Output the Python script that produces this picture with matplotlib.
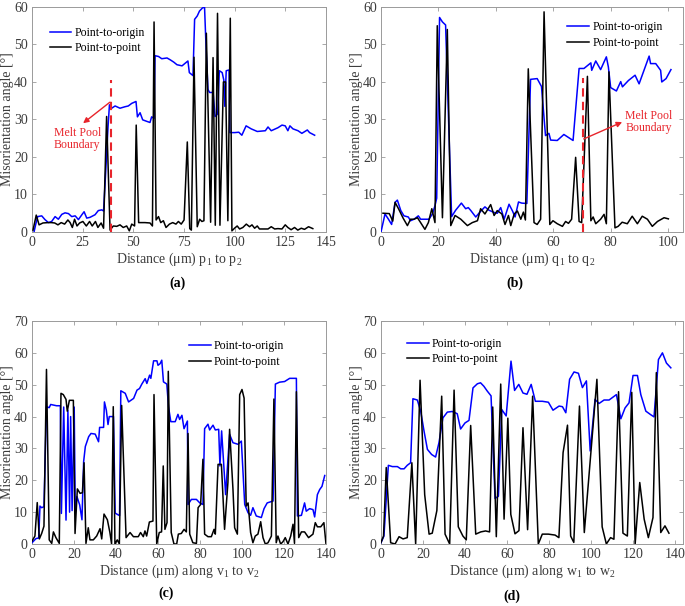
import matplotlib
matplotlib.use("Agg")
import matplotlib.pyplot as plt
from matplotlib.lines import Line2D

plt.rcParams["font.family"] = ["Liberation Serif", "DejaVu Serif"]
plt.rcParams["mathtext.fontset"] = "custom"
plt.rcParams["mathtext.rm"] = "Liberation Serif"
plt.rcParams["mathtext.it"] = "Liberation Serif:italic"

# ---------------------------------------------------------------------
# DATA
# ---------------------------------------------------------------------
# (a) p1 -> p2
a_origin = [(1, 0), (2.0, 2.4), (2.8, 4.1), (4.8, 4.3), (6.4, 3.3), (8.1, 2.5), (9.7, 2.8),
            (11.4, 4.1), (13, 3.4), (14.7, 4.7), (16.3, 5.1), (18, 4.9), (19.6, 4.1), (21.3, 4.3),
            (22.9, 3.3), (24.6, 4.6), (25.7, 5.4), (27, 3.7), (28.6, 3.9), (31.1, 4.6), (32.7, 5.7),
            (34.4, 5.9), (35.3, 5.6), (36.3, 15.5), (37.5, 28), (38.2, 33.9), (39.3, 33), (41, 33.6),
            (43.4, 33), (45.9, 33.4), (47.5, 33.6), (49.2, 34.3), (51.3, 34.8), (52, 30.7),
            (53.3, 31.8), (54.6, 29.9), (56.6, 29.5), (58.2, 29.2), (59, 30.7), (60.2, 30.3),
            (60.7, 47), (62.4, 46.8), (64, 46.2), (66.6, 46.4), (68.2, 45.9), (69.9, 45.3),
            (71.5, 44.6), (74, 44.3), (76.9, 45.6), (77.6, 42.5), (79.4, 41.7), (80.2, 56.7),
            (81.5, 57.6), (82.6, 58.9), (84, 59.7), (85.1, 60), (85.8, 50), (86.8, 38), (87.6, 37.2),
            (89.3, 37.2), (90.3, 30.8), (91.6, 31.5), (92.4, 43), (93.8, 42.5), (94.6, 40.5),
            (95.1, 33.5), (95.8, 43), (97.2, 43.2), (97.6, 26.5), (100, 26.5), (102, 26.6),
            (103.5, 25.8), (105.6, 28.3), (108.1, 27.5), (111.1, 26.8), (115.1, 27), (116.4, 28),
            (118, 27), (121.3, 27.8), (123.3, 28.5), (124.9, 28.3), (126.2, 27), (127.2, 28.3),
            (128.7, 27.5), (131.2, 27), (133.1, 26.3), (135.8, 27.2), (136.9, 26.5), (139.4, 25.8)]
a_point = [(0.5, 0.5), (2.1, 4.5), (3.5, 1.9), (5.4, 2.4), (7.9, 2.5), (9.5, 2.5), (11.2, 2.4),
           (12.8, 1.9), (14.4, 2.5), (16.1, 2.1), (17.7, 3.2), (18.8, 2.5), (19.9, 1.2), (21, 3.4),
           (22.2, 1.6), (23.5, 2.4), (25.1, 2.8), (26.8, 1.6), (28.4, 2.8), (29.7, 1.6), (31.3, 2.8),
           (32.5, 1.2), (34.1, 2.4), (35.3, 1), (36.8, 30.8), (38.5, 0.5), (40.1, 1.6), (41.8, 1.5),
           (43.4, 1.9), (45, 1.2), (46.7, 1.6), (48, 0.3), (49.2, 2.1), (50.6, 1.6), (51.4, 28.5),
           (52.6, 2.5), (55.7, 2.5), (58.2, 2.4), (59.4, 1.6), (60.2, 56), (61.2, 3.2), (62.4, 4.1),
           (63.5, 2.5), (64.8, 3), (66.1, 1.2), (67.8, 2.1), (69.4, 2.5), (71, 2.1), (72.2, 2.8),
           (73.6, 2.1), (75, 3.2), (76.6, 24), (77.8, 0.9), (78.6, 0.5), (79.9, 46.6), (81.5, 1.4),
           (82.7, 3.4), (83.8, 2.8), (84.8, 3), (86, 53), (88.1, 2.6), (89.3, 46.5), (90.4, 1.8),
           (91.5, 58.3), (92.7, 1.8), (94.4, 40), (95.5, 40), (96.6, 3), (97.8, 57), (98.6, 0.3),
           (99.9, 1), (101.2, 1.6), (102.4, 0.8), (104, 1.2), (105.7, 2.1), (107.3, 1.4),
           (108.5, 1.9), (109.8, 1), (111.1, 1.6), (112.2, 0.8), (114.7, 0.8), (116.4, 0.8),
           (118, 1.4), (119.7, 0.8), (121.3, 0.9), (123.3, 0.8), (124.9, 1.9), (126.2, 1.2),
           (127.8, 0.6), (129.5, 1.2), (131.1, 0.5), (132.8, 1), (134.4, 0.7), (136.4, 1.4),
           (138.5, 0.9)]

# (b) q1 -> q2
b_origin = [(0, 0), (1.4, 4.8), (2.6, 3.4), (3.7, 2.0), (4.9, 7.9), (5.7, 8.5), (6.9, 5.7),
            (8, 4.3), (9.5, 4), (10.3, 3), (11.5, 3.4), (13, 4.3), (13.8, 3.4), (15.6, 3.4),
            (16.7, 3.4), (17.9, 4.8), (18.8, 7), (19.4, 9), (20.4, 57.2), (21.4, 56), (22.5, 55.2),
            (24.6, 4.1), (26, 5.8), (28, 7.7), (29.5, 6.2), (30.4, 6.5), (31.2, 5.8), (33, 4),
            (34.7, 5.5), (36.2, 6.7), (37.6, 5.8), (39.4, 5.2), (40.5, 5), (41.7, 6.5), (42.9, 3.4),
            (44.6, 7.4), (45.8, 5.6), (46.7, 4), (47.9, 8), (49, 7.7), (50.8, 7.6), (52.1, 40.7),
            (54.4, 40.9), (55.9, 38.8), (57.3, 25.7), (58.5, 26.3), (59.1, 24.5), (61.4, 24.4),
            (63.7, 26), (65.5, 25.1), (66.9, 24.4), (69, 43.6), (70.7, 43.6), (73.1, 45.1),
            (73.4, 43.1), (74.8, 45.6), (76.5, 43.3), (78.5, 46.7), (79.2, 44), (80, 38.5),
            (82, 37.6), (83.5, 40.1), (84.1, 38.7), (86.2, 40.4), (88.5, 41.8), (89.9, 39.5),
            (93.4, 46.9), (93.9, 44.9), (95.7, 44.9), (97.4, 43.1), (97.8, 40), (99.3, 40.9),
            (101, 43.3)]
b_point = [(0.7, 5), (2.9, 4.9), (4.1, 2.9), (4.9, 7.9), (6.1, 6.2), (7.7, 3.7), (9.2, 1.7),
           (10.3, 3.4), (11.5, 3.4), (12.7, 3.8), (13.8, 2.5), (15.3, 0.7), (16.5, 2.5), (17.7, 6.2),
           (18.8, 2.5), (19.6, 55), (21.4, 3.8), (23.1, 54), (24.3, 1.7), (25.8, 4.4), (27.8, 3.4),
           (30.1, 1.7), (31.8, 2.5), (33.6, 3), (34.7, 6.2), (36.2, 4.8), (38.2, 7.3), (39.4, 4.4),
           (40.5, 5.7), (42.1, 4.8), (43.2, 2), (44.4, 4.4), (45.2, 1.7), (46.4, 4.8), (47.5, 5.6),
           (48.7, 3.4), (49.6, 5.3), (50.3, 3.2), (51.3, 43.5), (53.3, 2.5), (54.4, 2), (55.6, 3.4),
           (56.8, 58.7), (58.8, 2), (59.9, 3), (61.4, 2.2), (63.2, 1.5), (64.3, 2.8), (65.3, 2.3),
           (66.4, 3.4), (67.8, 19.9), (69, 2.8), (69.9, 2.5), (71.9, 41.5), (73.1, 3), (73.9, 4),
           (74.8, 2.2), (76.5, 3.4), (77.7, 4.7), (78.5, 2.2), (79.4, 42.7), (81.5, 1.1),
           (82.6, 1.5), (84, 2.6), (85.8, 2.2), (87.5, 4.2), (89.3, 2.2), (91, 4.2), (92.8, 3.4),
           (94.5, 1.5), (96.3, 2.8), (98.6, 3.8), (100.1, 3.5)]

# (c) v1 -> v2
c_origin = [(0, 0.4), (1.9, 1.7), (3.2, 1.9), (3.8, 11.9), (4.6, 11.4), (5.7, 11.7), (6.9, 43.1),
            (8.2, 42.8), (8.9, 43.8), (11.7, 43.4), (13.5, 43.4), (14.0, 9.6), (15.1, 43),
            (16.2, 7.5), (17.1, 42), (17.9, 10), (18.4, 40), (19.1, 10.5), (20.1, 43), (20.6, 10),
            (21.4, 14.9), (22.7, 12.3), (23.8, 7.6), (24.6, 25.9), (25.4, 30.6), (27, 33.7),
            (28.1, 34.7), (30.1, 34.5), (31.7, 32.1), (32.2, 36.6), (34.1, 36.6), (34.5, 44.6),
            (35.4, 42), (36.2, 37.5), (36.8, 40), (38.8, 40), (39.6, 9.7), (41.7, 8.9), (42.3, 48.1),
            (44.4, 47.3), (46, 44.6), (48.4, 45.7), (50, 48.3), (51.2, 48.8), (52.3, 50.2),
            (53.9, 51.9), (54.7, 50.4), (56, 53), (56.6, 52), (57.9, 57.5), (59.5, 57.5), (60, 56.1),
            (61, 56.6), (61.8, 57.7), (62.6, 50.9), (64.2, 50.2), (65, 43.1), (66.1, 38.4),
            (68.2, 38.4), (69.5, 40.7), (70.3, 39.1), (71.4, 40.4), (72.4, 36.2), (74, 38.6),
            (74.3, 12.4), (75.9, 14), (78.3, 14), (79.9, 12.9), (81.4, 12.4), (82.2, 36.2),
            (83.8, 37.6), (84.6, 35.8), (86.2, 37.3), (87.3, 35.8), (88.9, 36), (89.5, 24.5),
            (90.3, 35.5), (92.2, 15.5), (94.1, 34.4), (95.7, 31.8), (98.1, 31.3), (99.7, 32.3),
            (101.3, 12.4), (102.9, 9.8), (104.1, 9), (105.2, 11.4), (106.8, 8.8), (109.2, 8.3),
            (110.5, 11.1), (112, 12.9), (114.8, 13.5), (115.9, 50.2), (117.9, 50.8), (120.3, 51),
            (122.7, 52), (125.9, 52), (126.4, 8.8), (128.3, 9), (129.8, 12.9), (130.6, 10.3),
            (132.2, 11.1), (133.8, 10.8), (134.6, 8.5), (135.9, 15.5), (137, 17.1), (138.1, 18.1),
            (139.4, 21.5)]
c_point = [(0, 0.9), (1.4, 2.5), (2.5, 13), (3.5, 1.6), (4.6, 3.3), (5.7, 5.6), (6.9, 54.8),
           (8.2, 1.3), (9.4, 0.2), (10.2, 3.8), (11.4, 2), (13, 0.2), (13.8, 47.3), (14.9, 46.9),
           (16.2, 45.4), (16.8, 41.7), (17.8, 45.1), (19.7, 45.1), (20.5, 3.3), (21.6, 17.3),
           (22.9, 15.9), (24, 16.1), (24.8, 25.5), (25.7, 0.2), (26.8, 5.1), (27.6, 1.3),
           (29.2, 1.3), (30.8, 2.5), (32.4, 4.8), (33.2, 1.6), (34.3, 9.4), (35.9, 7.6), (37.1, 3.6),
           (37.9, 0), (38.7, 43.1), (39.5, 0), (40.6, 1.3), (41.6, 0), (42.7, 43.5), (44.8, 2),
           (46.7, 3.6), (48.3, 2.3), (50.6, 2.3), (51.7, 3.6), (53, 2.3), (53.8, 4.1), (54.6, 2.5),
           (55.9, 6.9), (57.6, 7.2), (58.1, 46.9), (59.4, 0), (60.6, 3.6), (61.7, 3.8), (62.5, 24.5),
           (63.3, 4.6), (64.3, 6.7), (64.9, 54.2), (66.3, 3.6), (67.6, 0), (68.9, 0), (69.7, 3.1),
           (71.1, 3.3), (72.4, 4.6), (73.5, 3.8), (74.3, 34.7), (75.1, 3.1), (76.6, 0.4),
           (78.3, 0.2), (79.1, 11.4), (80.3, 12.4), (81.4, 26.6), (82.2, 3.1), (83.8, 2.3),
           (85.4, 2.3), (86.7, 4.6), (87.3, 3.1), (88.6, 25), (90.2, 25), (91.7, 4.6), (93.3, 19.3),
           (94.1, 36), (95.7, 17.2), (96.5, 5.1), (97.8, 3.1), (98.9, 46.9), (100, 48.5),
           (101, 45.8), (102, 11.9), (102.9, 12.9), (104.1, 3.6), (105.2, 0.4), (106.3, 2.5),
           (107.6, 3.1), (108.9, 7), (110, 2), (111.1, 0), (112.4, 0.4), (114, 2.5), (115.2, 45.5),
           (116.3, 0.4), (117.1, 2.5), (118.4, 0), (119.5, 0.7), (120.6, 2), (121.9, 0), (123.2, 2.5),
           (124.3, 6.2), (125, 0.2), (125.9, 47.8), (127, 2), (128.3, 3.8), (129.8, 3.8),
           (131.7, 2), (133.8, 3.1), (134.9, 6.7), (135.9, 5.4), (137.5, 5.4), (139, 6.7), (140, 0)]

# (d) w1 -> w2
d_origin = [(0, 0.4), (1.4, 2.5), (3.5, 24.7), (5.4, 24.3), (7.8, 24.3), (9.4, 23.6), (11, 23.6),
            (12.5, 24.7), (14.1, 25.5), (15.2, 45.6), (17.3, 45.2), (18.9, 41.7), (20.5, 35.4),
            (22.1, 29.7), (24.1, 28.1), (26, 27.3), (27.6, 31.8), (29.5, 39.6), (31.6, 41.4),
            (33.9, 41.6), (36.3, 40.9), (37.9, 36.1), (40, 38), (41.9, 38.8), (43.8, 49),
            (45.9, 50.3), (47.4, 50.6), (49, 49.5), (50.6, 48), (52.4, 46.5), (54.3, 14.3),
            (55.9, 15), (57.5, 42.2), (59.6, 40.2), (61.9, 57.4), (63.6, 48.2), (65.6, 50.1),
            (67.6, 47.4), (69.5, 47), (71.5, 50.1), (73.5, 44.8), (76.8, 44.8), (79.7, 44.5),
            (81.9, 42), (84.8, 43.3), (86.4, 43.1), (88, 41.2), (89.8, 51.7), (91.9, 54), (94, 53.6),
            (95.9, 49.1), (97.8, 51.2), (99.6, 29.2), (101.9, 45.4), (103.8, 44.1), (106.2, 45.2),
            (108.6, 45.2), (112.1, 46.9), (114.2, 39.3), (116.2, 42.7), (118.1, 44.3), (120, 52.9),
            (122.1, 52.9), (123.7, 46.9), (126.1, 41.7), (128.4, 40.6), (130, 39.9), (132.1, 57.9),
            (134, 60), (135.9, 56.8), (138, 55.3)]
d_point = [(0, 0.5), (1.2, 2.5), (2.5, 24), (4.6, 0.4), (6.7, 0), (8.6, 2.3), (10.5, 1.6),
           (12.5, 2), (14.7, 25.5), (16.5, 0), (18.6, 51.4), (20.8, 15.5), (22.9, 3.1), (24.4, 3.4),
           (26.6, 10.5), (28.9, 46.4), (30.5, 3.1), (32.7, 0), (34.8, 48.3), (36.8, 5.4), (39, 2.5),
           (40.6, 1.3), (42.7, 37.2), (45.1, 3.1), (47.5, 3.8), (49.8, 4.1), (51.7, 3.8),
           (53.2, 43), (54.9, 2.3), (57, 50.2), (58.6, 7.8), (60.4, 39.5), (61.8, 9.3), (63.8, 3.2),
           (65.7, 4.2), (67.6, 36.5), (69.8, 4.5), (72.2, 46.4), (74.9, 0), (76.8, 3.1),
           (79.7, 3.1), (82.9, 2.8), (84.7, 2), (86.7, 28.7), (88.8, 37.3), (90.3, 2.5),
           (91.8, 0.5), (94.5, 43.3), (96.8, 3.6), (102.8, 51.7), (105.3, 5.4), (107.3, 0),
           (109.3, 2), (110.9, 1.5), (113.1, 47.8), (115.2, 3.4), (117.3, 2.5), (119.4, 47.6),
           (121, 0), (123.2, 19.3), (125.3, 7.8), (127.3, 2), (129.5, 8.3), (131.1, 53.8),
           (133.2, 3.6), (135.2, 5.7), (137.1, 3.4)]

# melt pool boundary markers: (x, top of dashed line)
a_boundary = (39.2, 40.5)
b_boundary = (70.2, 41.0)

# ---------------------------------------------------------------------
# PLOTTING
# ---------------------------------------------------------------------
GRAY = "#9a9a9a"
TXT = "#3c3c3c"
RED = "#e8242b"

fig = plt.figure(figsize=(6.85, 6.06), dpi=100)

panels = [
    dict(pos=[0.0467, 0.6172, 0.4292, 0.3713], origin=a_origin, point=a_point, xlim=(0, 145),
         xticks=[0, 25, 50, 75, 100, 125, 145], ylim=(0, 60),
         xlabel=r"Distance ($\mathregular{\mu}$m) p$_\mathregular{1}$ to p$_\mathregular{2}$",
         leg=(0.061, 0.912), tag="(a)", tagpos=(0.259, 0.533)),
    dict(pos=[0.5562, 0.6172, 0.4409, 0.3713], origin=b_origin, point=b_point, xlim=(0, 105.2),
         xticks=[0, 20, 40, 60, 80, 100], ylim=(0, 60),
         xlabel=r"Distance ($\mathregular{\mu}$m) q$_\mathregular{1}$ to q$_\mathregular{2}$",
         leg=(0.617, 0.937), tag="(b)", tagpos=(0.752, 0.533)),
    dict(pos=[0.0467, 0.1023, 0.4292, 0.368], origin=c_origin, point=c_point, xlim=(0, 140),
         xticks=list(range(0, 141, 20)), ylim=(0, 70),
         xlabel=r"Distance ($\mathregular{\mu}$m) along v$_\mathregular{1}$ to v$_\mathregular{2}$",
         leg=(0.535, 0.914), tag="(c)", tagpos=(0.243, 0.021)),
    dict(pos=[0.5562, 0.1023, 0.4409, 0.368], origin=d_origin, point=d_point, xlim=(0, 143.8),
         xticks=list(range(0, 141, 20)), ylim=(0, 70),
         xlabel=r"Distance ($\mathregular{\mu}$m) along w$_\mathregular{1}$ to w$_\mathregular{2}$",
         leg=(0.087, 0.924), tag="(d)", tagpos=(0.747, 0.016)),
]

axes = []
for p in panels:
    ax = fig.add_axes(p["pos"])
    ox, oy = zip(*p["origin"])
    px, py = zip(*p["point"])
    ax.plot(ox, oy, color="#0000ff", lw=1.1, zorder=3)
    ax.plot(px, py, color="black", lw=1.1, zorder=3)

    ax.set_xlim(*p["xlim"])
    ax.set_ylim(*p["ylim"])
    ax.set_xticks(p["xticks"])
    ax.set_yticks(range(0, p["ylim"][1] + 1, 10))
    ax.tick_params(direction="in", length=3, width=0.6, colors=GRAY, labelcolor=TXT,
                   labelsize=10, top=True, right=True, pad=3)
    for s in ax.spines.values():
        s.set_color(GRAY)
        s.set_linewidth(0.7)
    ax.set_xlabel(p["xlabel"], fontsize=10, color=TXT, labelpad=1)
    ax.set_ylabel("Misorientation angle [°]", fontsize=10, color=TXT, labelpad=0)

    handles = [Line2D([], [], color="#0000ff", lw=1.1), Line2D([], [], color="black", lw=1.1)]
    ax.legend(handles, ["Point-to-origin", "Point-to-point"], loc="upper left",
              bbox_to_anchor=p["leg"], frameon=False, fontsize=8.5, handlelength=1.8,
              handletextpad=0.3, labelspacing=0.3, borderpad=0, borderaxespad=0)

    fig.text(p["tagpos"][0], p["tagpos"][1], p["tag"], ha="center", va="center",
             fontsize=10, fontweight="bold", color="black")
    axes.append(ax)

# melt pool boundary annotations
ax_a, ax_b = axes[0], axes[1]
ax_a.plot([a_boundary[0]] * 2, [0, a_boundary[1]], color=RED, lw=1.5, ls=(0, (4, 2.5)), zorder=4)
ax_a.annotate("", xy=(25.2, 29.0), xytext=(38.4, 34.6),
              arrowprops=dict(arrowstyle="-|>", color=RED, lw=1.0, mutation_scale=8,
                              shrinkA=0, shrinkB=0), zorder=5)
ax_a.text(22.3, 24.8, "Melt Pool\nBoundary", color=RED, fontsize=8.5, ha="center", va="center",
          linespacing=1.05)

ax_b.plot([b_boundary[0]] * 2, [0, b_boundary[1]], color=RED, lw=1.5, ls=(0, (4, 2.5)), zorder=4)
ax_b.annotate("", xy=(84.0, 29.3), xytext=(70.6, 24.8),
              arrowprops=dict(arrowstyle="-|>", color=RED, lw=1.0, mutation_scale=8,
                              shrinkA=0, shrinkB=0), zorder=5)
ax_b.text(93.2, 29.3, "Melt Pool\nBoundary", color=RED, fontsize=8.5, ha="center", va="center",
          linespacing=1.05)

fig.savefig("out.png", dpi=100)
